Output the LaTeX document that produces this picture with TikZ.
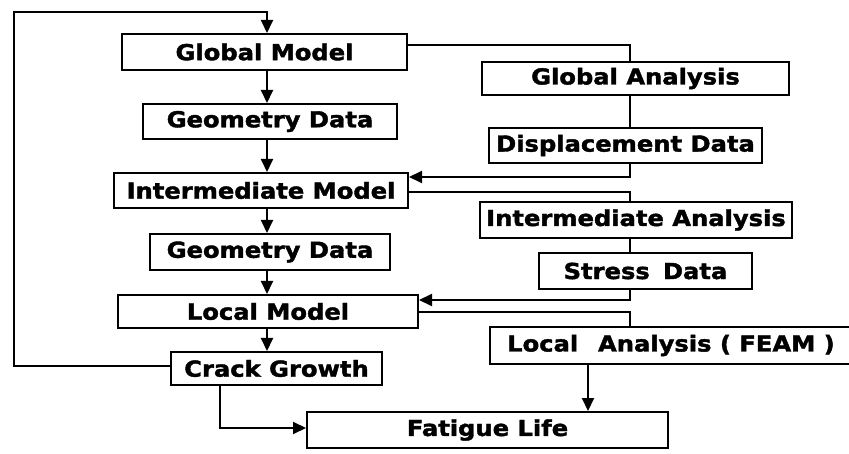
\documentclass[tikz,border=0pt]{standalone}
\usepackage{fontspec}
\setmainfont{DejaVu Sans}[FakeStretch=1.1,FakeBold=1.8]
\usetikzlibrary{arrows.meta}
\begin{document}
\begin{tikzpicture}[x=1pt,y=-1pt,
  box/.style={draw=black,line width=2pt,rectangle,inner sep=0pt,align=center,
    font=\fontsize{22}{26}\selectfont\bfseries},
  conn/.style={draw=black,line width=2pt},
  arr/.style={conn,-{Triangle[length=13pt,width=12pt]}}]
\useasboundingbox (0,0) rectangle (849,454);
\fill[white] (0,0) rectangle (849,454);
% left column
\node[box,minimum width=285pt,minimum height=36pt] (gm) at (264.5,52) {Global Model};
\node[box,minimum width=254pt,minimum height=35pt] (gd1) at (270,121.5) {Geometry Data};
\node[box,minimum width=294pt,minimum height=35pt] (im) at (261,190.5) {Intermediate Model};
\node[box,minimum width=240pt,minimum height=36pt] (gd2) at (270,252) {Geometry Data};
\node[box,minimum width=300pt,minimum height=33pt] (lm) at (268,311.5) {Local Model};
\node[box,minimum width=211pt,minimum height=33pt] (cg) at (276.5,368.5) {Crack Growth};
\node[box,minimum width=361pt,minimum height=36pt] (fl) at (487.5,430) {Fatigue Life};
% right column
\node[box,minimum width=307pt,minimum height=33pt] (ga) at (635.5,78.5) {Global Analysis};
\node[box,minimum width=273pt,minimum height=35pt] (dd) at (625.5,145.5) {Displacement Data};
\node[box,minimum width=312pt,minimum height=36pt] (ia) at (636,220) {Intermediate Analysis};
\node[box,minimum width=213pt,minimum height=36pt] (sd) at (645.5,271) {Stress\hspace{0.6em}Data};
\node[box,minimum width=362pt,minimum height=37pt] (la) at (671,345.5) {Local\hspace{0.9em}Analysis ( FEAM )};
% helper coordinates
\coordinate (xc) at (267,0);
\coordinate (rc) at (630,0);
\coordinate (tl) at (14,12);
\coordinate (fx) at (588,0);
\coordinate (cx) at (220,0);
% left column arrows
\draw[arr] (gm.south -| xc) -- (gd1.north -| xc);
\draw[arr] (gd1.south -| xc) -- (im.north -| xc);
\draw[arr] (im.south -| xc) -- (gd2.north -| xc);
\draw[arr] (gd2.south -| xc) -- (lm.north -| xc);
\draw[arr] (lm.south -| xc) -- (cg.north -| xc);
% feedback loop
\draw[arr] ([yshift=2pt]cg.west) -| (tl) -| (gm.north -| xc);
% global
\draw[conn] ([yshift=7pt]gm.east) -| (ga.north -| rc);
\draw[conn] (ga.south -| rc) -- (dd.north -| rc);
\draw[arr] (dd.south -| rc) |- ([yshift=13.5pt]im.east);
% intermediate
\draw[conn] ([yshift=-1.5pt]im.east) -| (ia.north -| rc);
\draw[conn] (ia.south -| rc) -- (sd.north -| rc);
\draw[arr] (sd.south -| rc) |- ([yshift=11.5pt]lm.east);
% local
\draw[conn] ([yshift=-0.5pt]lm.east) -| (la.north -| rc);
\draw[arr] (la.south -| fx) -- (fl.north -| fx);
\draw[arr] (cg.south -| cx) |- ([yshift=2pt]fl.west);
\end{tikzpicture}
\end{document}
